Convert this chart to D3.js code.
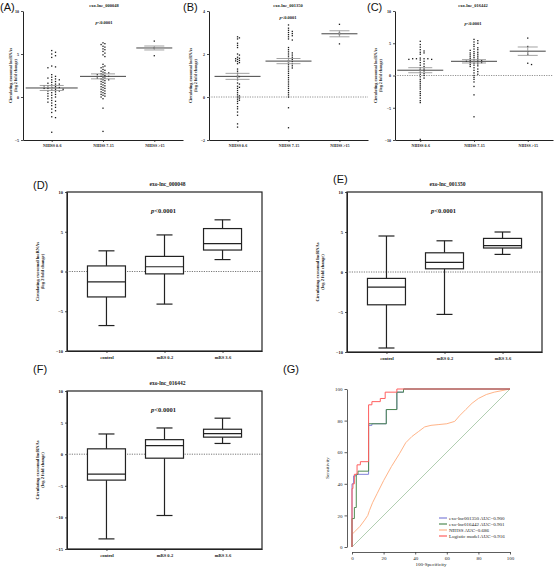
<!DOCTYPE html>
<html><head><meta charset="utf-8">
<script src="https://cdn.jsdelivr.net/npm/d3@7"></script>
<style>body{margin:0;background:#fff}svg{display:block}text{font-family:"Liberation Serif",serif;fill:#222}</style>
</head><body><svg id="c" width="555" height="568"></svg>
<script>
// ---------- DATA ----------
const scatterGroups = ["NIHSS 0-6", "NIHSS 7-15", "NIHSS >15"];
const boxGroups = ["control", "mRS 0-2", "mRS 3-6"];

// exo-lnc_000048 (A)
const lnc000048_nihss06 = [5.4,5.2,5.0,4.8,4.6,3.6,3.5,3.4,2.6,2.4,2.3,2.2,2.1,2.0,2.0,1.8,1.7,1.6,1.5,1.5,1.4,1.3,1.3,1.2,1.1,1.1,1.0,1.0,0.9,0.9,0.8,0.7,0.7,0.6,0.5,0.4,0.3,0.2,0.1,0.0,-0.1,-0.2,-0.4,-0.5,-0.6,-0.7,-0.9,-1.0,-1.2,-1.4,-1.6,-1.8,-2.3,-2.4,-4.1];
const lnc000048_nihss715 = [6.3,6.2,6.1,5.9,5.8,5.6,5.5,5.3,5.1,4.9,4.7,3.8,3.6,3.5,3.4,3.2,3.1,3.0,2.9,2.8,2.8,2.7,2.6,2.6,2.5,2.4,2.4,2.3,2.2,2.2,2.1,2.0,2.0,1.9,1.8,1.7,1.6,1.5,1.4,1.3,1.2,1.1,1.0,0.9,0.8,0.7,0.6,0.5,0.4,0.3,0.2,0.1,0.0,-0.2,-1.3,-4.0];
const lnc000048_nihss15 = [6.5,5.7,4.8];
const lnc000048_mean = [1.05,2.4,5.7];
const lnc000048_sem = [0.29,0.29,0.23];

// exo-lnc_001350 (B)
const lnc001350_nihss06 = [2.8,2.75,2.7,2.5,2.4,2.3,2.0,1.95,1.85,1.8,1.78,1.75,1.7,1.68,1.65,1.6,1.55,1.3,1.2,1.1,1.0,0.95,0.9,0.8,0.65,0.6,0.5,0.45,0.4,0.3,0.2,0.1,0.05,0.0,-0.05,-0.1,-0.15,-0.2,-0.3,-0.45,-0.55,-0.7,-0.85,-1.25,-1.4];
const lnc001350_nihss715 = [3.35,3.2,3.1,3.05,3.0,2.95,2.9,2.85,2.8,2.7,2.65,2.3,2.2,2.1,2.05,2.0,1.95,1.9,1.85,1.8,1.75,1.7,1.65,1.6,1.55,1.5,1.45,1.4,1.35,1.3,1.2,1.1,1.0,0.9,0.8,0.7,0.6,0.5,0.4,0.3,0.2,0.1,0.0,-0.5,-1.43];
const lnc001350_nihss15 = [3.38,3.0,2.9,2.47];
const lnc001350_mean = [0.96,1.67,2.94];
const lnc001350_sem = [0.14,0.12,0.14];

// exo-lnc_016442 (C)
const lnc016442_nihss06 = [5.3,4.8,4.4,4.0,3.8,3.6,3.5,3.3,2.7,2.6,2.6,2.6,2.6,2.5,2.5,2.4,2.2,2.0,1.8,1.6,1.4,1.2,1.0,0.9,0.7,0.5,0.3,0.2,0.0,-0.2,-0.4,-0.6,-0.9,-1.2,-1.5,-1.8,-2.1,-2.5,-2.8,-3.1,-3.5,-3.9,-4.2,-9.9];
const lnc016442_nihss715 = [5.6,5.4,5.2,5.0,4.8,4.5,4.3,4.1,4.0,3.9,3.7,3.6,3.5,3.4,3.3,3.2,3.1,3.0,2.9,2.8,2.7,2.6,2.5,2.4,2.3,2.3,2.2,2.2,2.1,2.0,2.0,1.9,1.8,1.7,1.6,1.5,1.4,1.2,1.0,0.8,0.6,0.4,0.2,0.0,-0.3,-0.6,-1.0,-1.7,-3.0,-6.4];
const lnc016442_nihss15 = [5.8,4.5,3.7,3.3,1.9,1.7];
const lnc016442_mean = [0.82,2.2,3.77];
const lnc016442_sem = [0.39,0.26,0.65];

// Box plots: [min, q1, median, q3, max] per group
const box000048 = [[-6.8,-3.2,-1.3,0.7,2.6],[-4.1,-0.3,0.6,1.9,4.6],[1.5,2.7,3.5,5.4,6.5]];
const box001350 = [[-9.5,-4.1,-1.9,-0.8,4.5],[-5.3,0.4,1.2,2.4,3.9],[2.2,3.0,3.3,4.2,5.0]];
const box016442 = [[-13.4,-4.1,-3.15,0.85,3.2],[-9.7,-0.63,1.37,2.3,4.15],[1.7,2.7,3.25,3.95,5.7]];

// ROC curves (x = 100-specificity, y = sensitivity)
const rocLncA_x = [0,0,1,1,2.5,2.5,10.5,10.5,12.6,12.6,21.7,21.7,28.4,28.4,32.6,32.6,100];
const rocLncA_y = [0,40,40,45,45,46,46,77,77,78,78,87,87,98,98,100,100];
const rocLncB_x = [0,0,1.5,1.5,2.7,2.7,3.8,3.8,10.5,10.5,21.7,21.7,28.4,28.4,32.6,32.6,100];
const rocLncB_y = [0,18,18,25,25,46,46,48,48,78,78,87,87,98,98,100,100];
const rocNihss_x = [0,0,2,5,8,10,11,13,16,20,25,30,34,38,42,46,50,55,60,65,68,72,76,80,85,90,95,100];
const rocNihss_y = [0,8,10,13,17,20,23,28,34,42,51,59,66,70,73,76,77,77.5,78,79.5,83,87,91,94,96.5,98,99,100];
const rocLogit_x = [0,0,0.6,0.6,1.5,1.5,3.2,3.2,5.3,5.3,10.5,10.5,12.6,12.6,17.9,17.9,21,21,28.4,28.4,100];
const rocLogit_y = [0,37,37,40,40,46,46,52,52,54,54,90,90,92,92,94,94,98,98,100,100];
const rocLabels = ["exo-lnc001350 AUC=0.900","exo-lnc016442 AUC=0.901","NIHSS AUC=0.686","Logistic model AUC=0.916"];
const rocColors = ["#8080d8","#4f8a52","#ffb488","#ff5f5f"];

// ---------- DRAWING ----------
const svg = d3.select("#c");
const ink = "#222";

function panelLetter(t, x, y){
  svg.append("text").attr("x",x).attr("y",y).text(t)
    .style("font-family","'Liberation Sans',Arial,sans-serif").style("font-size","11px").style("fill","#111");
}

function styleAxis(g, fs){
  g.select(".domain").attr("stroke",ink).attr("stroke-width",1);
  g.selectAll(".tick line").attr("stroke",ink).attr("stroke-width",0.8);
  g.selectAll(".tick text").style("font-family","'Liberation Serif',serif").style("font-weight","bold").style("font-size",fs+"px").attr("fill",ink);
}

function ylabel(cx, cy, fs, gap){
  const t = svg.append("text").attr("transform",`translate(${cx},${cy}) rotate(-90)`)
    .attr("text-anchor","middle").style("font-size",fs+"px").style("font-weight","bold");
  t.append("tspan").attr("x",0).attr("dy",0).text("Circulating exosomal lncRNAs");
  t.append("tspan").attr("x",0).attr("dy",gap).text("(log 2 fold change)");
}

function pText(x, y, fs){
  const t = svg.append("text").attr("x",x).attr("y",y).attr("text-anchor","middle")
    .style("font-size",fs+"px").style("font-weight","bold");
  t.append("tspan").style("font-style","italic").text("p");
  t.append("tspan").text("<0.0001");
}

function beeswarm(values, yScale, cx, d){
  const pts = values.map(v=>({v, y:yScale(v)})).sort((a,b)=>a.y-b.y);
  const placed = [];
  pts.forEach(p=>{
    for(let k=0;k<80;k++){
      const off = (k===0?0:(k%2?1:-1)*Math.ceil(k/2))*d;
      const ok = placed.every(q=>Math.abs(q.y-p.y)>=d || Math.abs(q.x-(cx+off))>=d);
      if(ok){p.x = cx+off; break;}
    }
    placed.push(p);
  });
  return placed;
}

function scatterPanel(o){
  const y = d3.scaleLinear().domain(o.yDomain).range([o.bottom,o.top]);
  const x = d3.scalePoint().domain(scatterGroups).range([o.left,o.right]).padding(o.pad);
  const ga = svg.append("g").attr("transform",`translate(${o.left},0)`)
    .call(d3.axisLeft(y).tickValues(o.yTicks).tickSize(2).tickSizeOuter(0).tickPadding(2).tickFormat(d3.format("d")));
  styleAxis(ga, 4);
  const gb = svg.append("g").attr("transform",`translate(0,${o.bottom})`)
    .call(d3.axisBottom(x).tickSize(2).tickSizeOuter(0).tickPadding(2.5));
  styleAxis(gb, 4);
  if(o.dotted){
    svg.append("line").attr("x1",o.left).attr("x2",o.right).attr("y1",y(0)).attr("y2",y(0))
      .attr("stroke","#777").attr("stroke-width",0.8).attr("stroke-dasharray","1.2,1.2");
  }
  o.data.forEach((vals,i)=>{
    const cx = x(scatterGroups[i]);
    const pts = beeswarm(vals, y, cx, 1.9);
    svg.append("g").selectAll("rect").data(pts).join("rect")
      .attr("x",d=>d.x-0.65).attr("y",d=>d.y-0.65).attr("width",1.3).attr("height",1.3).attr("fill","#1a1a1a");
    const m = o.mean[i], s = o.sem[i];
    svg.append("line").attr("x1",cx-o.meanW[i]).attr("x2",cx+o.meanW[i]).attr("y1",y(m)).attr("y2",y(m))
      .attr("stroke","#444").attr("stroke-width",1);
    [m-s,m+s].forEach(v=>{
      svg.append("line").attr("x1",cx-o.semW[i]).attr("x2",cx+o.semW[i]).attr("y1",y(v)).attr("y2",y(v))
        .attr("stroke","#999").attr("stroke-width",0.9);
    });
    svg.append("line").attr("x1",cx).attr("x2",cx).attr("y1",y(m-s)).attr("y2",y(m+s))
      .attr("stroke","#999").attr("stroke-width",0.9);
  });
  svg.append("text").attr("x",o.titleX).attr("y",o.titleY).attr("text-anchor","middle")
    .style("font-size","4.5px").style("font-weight","bold").text(o.title);
  pText(o.titleX, o.pY, 4.5);
  ylabel(o.ylabX, (o.top+o.bottom)/2, 4.2, 4.5);
}

function boxPanel(o){
  const y = d3.scaleLinear().domain(o.yDomain).range([o.bottom,o.top]);
  const x = d3.scalePoint().domain(boxGroups).range([o.left,o.right]).padding(0.68);
  svg.append("rect").attr("x",o.left).attr("y",o.top).attr("width",o.right-o.left).attr("height",o.bottom-o.top)
    .attr("fill","none").attr("stroke",ink).attr("stroke-width",1.2);
  const ga = svg.append("g").attr("transform",`translate(${o.left},0)`)
    .call(d3.axisLeft(y).tickValues(o.yTicks).tickSize(2).tickSizeOuter(0).tickPadding(2).tickFormat(d3.format("d")));
  styleAxis(ga, 4.5);
  const gb = svg.append("g").attr("transform",`translate(0,${o.bottom})`)
    .call(d3.axisBottom(x).tickSize(2).tickSizeOuter(0).tickPadding(3));
  styleAxis(gb, 4.5);
  svg.append("line").attr("x1",o.left).attr("x2",o.right).attr("y1",y(0)).attr("y2",y(0))
    .attr("stroke","#555").attr("stroke-width",0.8).attr("stroke-dasharray","1.2,1.2");
  const bw = 19, cw = 8;
  o.data.forEach((s,i)=>{
    const cx = x(boxGroups[i]);
    const g = svg.append("g").attr("stroke",ink).attr("stroke-width",1.2).attr("fill","none");
    g.append("line").attr("x1",cx).attr("x2",cx).attr("y1",y(s[0])).attr("y2",y(s[1]));
    g.append("line").attr("x1",cx).attr("x2",cx).attr("y1",y(s[3])).attr("y2",y(s[4]));
    g.append("line").attr("x1",cx-cw).attr("x2",cx+cw).attr("y1",y(s[0])).attr("y2",y(s[0]));
    g.append("line").attr("x1",cx-cw).attr("x2",cx+cw).attr("y1",y(s[4])).attr("y2",y(s[4]));
    g.append("rect").attr("x",cx-bw).attr("width",2*bw).attr("y",y(s[3])).attr("height",y(s[1])-y(s[3])).attr("fill","#fff");
    g.append("line").attr("x1",cx-bw).attr("x2",cx+bw).attr("y1",y(s[2])).attr("y2",y(s[2]));
  });
  svg.append("text").attr("x",(o.left+o.right)/2+3).attr("y",o.top-6).attr("text-anchor","middle")
    .style("font-size","5.5px").style("font-weight","bold").text(o.title);
  pText((o.left+o.right)/2-1, o.pY, 6.5);
  ylabel(o.left-28, (o.top+o.bottom)/2, 4.5, 5);
}

// Panels A-C
panelLetter("(A)", 0, 11);
scatterPanel({title:"exo-lnc_000048", data:[lnc000048_nihss06,lnc000048_nihss715,lnc000048_nihss15],
  mean:lnc000048_mean, sem:lnc000048_sem, meanW:[26,23,18], semW:[12,12,10],
  yDomain:[-5,10], yTicks:[-5,0,5,10], left:23, right:183, top:11, bottom:140, pad:0.56,
  titleX:104, titleY:7, pY:24, ylabX:12, dotted:false});
panelLetter("(B)", 183, 11);
scatterPanel({title:"exo-lnc_001350", data:[lnc001350_nihss06,lnc001350_nihss715,lnc001350_nihss15],
  mean:lnc001350_mean, sem:lnc001350_sem, meanW:[23,23,18], semW:[12,12,10],
  yDomain:[-2,4], yTicks:[-2,0,2,4], left:209, right:368, top:11, bottom:140, pad:0.56,
  titleX:288, titleY:7, pY:19, ylabX:192, dotted:true});
panelLetter("(C)", 367, 11);
scatterPanel({title:"exo-lnc_016442", data:[lnc016442_nihss06,lnc016442_nihss715,lnc016442_nihss15],
  mean:lnc016442_mean, sem:lnc016442_sem, meanW:[23,23,18], semW:[12,12,10],
  yDomain:[-10,10], yTicks:[-10,-5,0,5,10], left:395, right:553, top:11, bottom:140, pad:0.47,
  titleX:473, titleY:7, pY:25, ylabX:377, dotted:true});

// Panels D-F
panelLetter("(D)", 33, 189);
boxPanel({title:"exo-lnc_000048", data:box000048, yDomain:[-10,10], yTicks:[-10,-5,0,5,10],
  left:67, right:262, top:192, bottom:351, pY:213});
panelLetter("(E)", 333, 183);
boxPanel({title:"exo-lnc_001350", data:box001350, yDomain:[-10,10], yTicks:[-10,-5,0,5,10],
  left:347, right:542, top:192, bottom:352, pY:213});
panelLetter("(F)", 33, 373);
boxPanel({title:"exo-lnc_016442", data:box016442, yDomain:[-15,10], yTicks:[-15,-10,-5,0,5,10],
  left:67, right:262, top:391, bottom:549, pY:412});

// Panel G (ROC)
panelLetter("(G)", 283, 373);
(function(){
  const x = d3.scaleLinear().domain([0,100]).range([352,510]);
  const y = d3.scaleLinear().domain([0,100]).range([547,389]);
  const ga = svg.append("g").attr("transform","translate(347,0)")
    .call(d3.axisLeft(y).tickValues([0,20,40,60,80,100]).tickSize(2.5).tickSizeOuter(0).tickPadding(2));
  const gb = svg.append("g").attr("transform","translate(0,552)")
    .call(d3.axisBottom(x).tickValues([0,20,40,60,80,100]).tickSize(2.5).tickSizeOuter(0).tickPadding(2));
  [ga,gb].forEach(g=>{
    g.select(".domain").attr("stroke","#333").attr("stroke-width",0.8);
    g.selectAll(".tick line").attr("stroke","#333").attr("stroke-width",0.8);
    g.selectAll(".tick text").style("font-family","'Liberation Serif',serif").style("font-size","5px").attr("fill","#222");
  });
  svg.append("text").attr("x",431).attr("y",566).attr("text-anchor","middle").style("font-size","5px").text("100-Specificity");
  svg.append("text").attr("transform","translate(329,468) rotate(-90)").attr("text-anchor","middle").style("font-size","5px").text("Sensitivity");
  const line = d3.line().x(d=>x(d[0])).y(d=>y(d[1]));
  svg.append("path").attr("d",line([[0,0],[100,100]])).attr("fill","none").attr("stroke","#a8c8a8").attr("stroke-width",0.9);
  const curves = [[rocLncA_x,rocLncA_y],[rocLncB_x,rocLncB_y],[rocNihss_x,rocNihss_y],[rocLogit_x,rocLogit_y]];
  const order = [2,0,1,3];
  order.forEach(i=>{
    const pts = d3.zip(curves[i][0], curves[i][1]);
    svg.append("path").attr("d",line(pts)).attr("fill","none").attr("stroke",rocColors[i]).attr("stroke-width",1);
  });
  rocLabels.forEach((t,i)=>{
    const yy = 518 + i*6;
    svg.append("line").attr("x1",439).attr("x2",447).attr("y1",yy).attr("y2",yy).attr("stroke",rocColors[i]).attr("stroke-width",1.2);
    svg.append("text").attr("x",449).attr("y",yy+1.6).style("font-size","5px").text(t);
  });
})();
</script></body></html>
